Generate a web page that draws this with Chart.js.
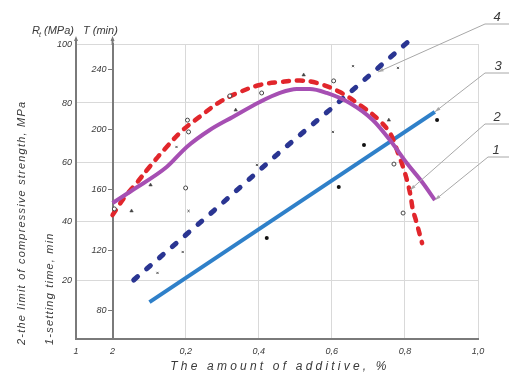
<!DOCTYPE html>
<html lang="en">
  <head>
    <meta charset="UTF-8" />
    <title>Setting time and strength vs additive</title>
    <style>
      body {
        margin: 0;
        background: white;
      }
      .wrap {
        position: relative;
        width: 509px;
        height: 374px;
      }
    </style>
  </head>
  <body>
    <div class="wrap"><canvas id="chart"></canvas></div>

    <script src="https://cdn.jsdelivr.net/npm/chart.js"></script>
    <script>
      // Axis ticks
      const xTicks = [-0.1, 0, 0.2, 0.4, 0.6, 0.8, 1.0];
      const xTickLabels = ["1", "2", "0,2", "0,4", "0,6", "0,8", "1,0"];
      const rTicks = [20, 40, 60, 80, 100];
      const tTicks = [80, 120, 160, 200, 240];

      // Curve 1 - setting time, min (T axis)
      const curve1X = [0, 0.055, 0.148, 0.203, 0.266, 0.329, 0.403, 0.458, 0.504, 0.54, 0.586, 0.649, 0.712, 0.759, 0.805, 0.849, 0.882];
      const curve1T = [151.3, 160.0, 175.3, 188.7, 200.0, 208.7, 218.7, 224.7, 227.3, 227.3, 224.7, 218.0, 206.7, 193.3, 178.0, 164.7, 153.3];

      // Curve 2 - limit of compressive strength, MPa
      const curve2X = [0, 0.033, 0.066, 0.101, 0.148, 0.192, 0.238, 0.293, 0.348, 0.403, 0.458, 0.512, 0.559, 0.622, 0.685, 0.723, 0.759, 0.781, 0.8, 0.814, 0.822, 0.83, 0.847];
      const curve2R = [42.0, 48.1, 52.9, 58.3, 65.1, 70.8, 75.3, 80.3, 83.7, 86.1, 87.1, 87.6, 86.8, 83.7, 78.6, 74.9, 69.8, 63.1, 56.3, 49.5, 43.7, 40.3, 32.5];

      // Curve 3 (solid blue)
      const curve3X = [0.101, 0.882];
      const curve3R = [12.5, 77.0];

      // Curve 4 (dashed dark blue)
      const curve4X = [0.058, 0.279, 0.458, 0.603, 0.827];
      const curve4R = [20.0, 43.7, 63.4, 78.6, 102.7];

      // Measured points
      const dotsX = [0.422, 0.619, 0.688, 0.888];
      const dotsR = [34.2, 51.5, 65.8, 74.2];
      const circlesX = [0.005, 0.2, 0.205, 0.208, 0.321, 0.408, 0.605, 0.77, 0.795];
      const circlesR = [44.1, 51.2, 74.2, 70.2, 82.4, 83.4, 87.5, 59.3, 42.7];
      const trianglesX = [0.052, 0.104, 0.337, 0.523, 0.756];
      const trianglesR = [43.4, 52.2, 77.6, 89.5, 74.2];
      const crossesX = [0.123, 0.192, 0.208, 0.175, 0.395, 0.603, 0.658, 0.781, 0.795];
      const crossesR = [22.4, 29.5, 43.4, 65.1, 59.0, 70.2, 92.5, 91.9, 104.4];

      const zip = (xs, ys) => xs.map((v, i) => ({ x: v, y: ys[i] }));

      const tickFont = { family: "Liberation Sans", size: 9, style: "italic" };
      const axisGray = "#7a7a7a";
      const gridGray = "#d9d9d9";
      const textGray = "#3a3a3a";

      // Labels 1..4 with leader lines to the curves
      const curveLabels = [
        { text: "4", tx: 497, ty: 17, x0: 485, y0: 24, at: [0.726, 90.5], axis: "y" },
        { text: "3", tx: 498, ty: 66, x0: 485, y0: 73, at: [0.882, 77.0], axis: "y" },
        { text: "2", tx: 497, ty: 117, x0: 485, y0: 124, at: [0.814, 50.5], axis: "y" },
        { text: "1", tx: 496, ty: 150, x0: 488, y0: 157, at: [0.882, 153.3], axis: "y2" },
      ];

      const decor = {
        id: "decor",
        afterDraw(chart) {
          const { ctx, scales } = chart;
          const x = scales.x;
          const y = scales.y;
          const y2 = scales.y2;
          ctx.save();

          // arrow tips on the two vertical axes
          ctx.strokeStyle = axisGray;
          ctx.fillStyle = axisGray;
          ctx.lineWidth = 2;
          [x.getPixelForValue(-0.1), x.getPixelForValue(0)].forEach((px) => {
            ctx.beginPath();
            ctx.moveTo(px, y.top + 1);
            ctx.lineTo(px, y.top - 5);
            ctx.stroke();
            ctx.beginPath();
            ctx.moveTo(px, y.top - 8);
            ctx.lineTo(px - 2, y.top - 3);
            ctx.lineTo(px + 2, y.top - 3);
            ctx.closePath();
            ctx.fill();
          });

          // T axis tick labels, left of the inner axis
          ctx.fillStyle = textGray;
          ctx.font = "italic 9px 'Liberation Sans'";
          ctx.textAlign = "right";
          ctx.textBaseline = "middle";
          const tx = x.getPixelForValue(0) - 6;
          tTicks.forEach((v) => ctx.fillText(String(v), tx, y2.getPixelForValue(v)));

          // axis names at the top
          ctx.textBaseline = "alphabetic";
          ctx.textAlign = "left";
          ctx.font = "italic 11px 'Liberation Sans'";
          ctx.fillText("R", 32, 34);
          ctx.font = "italic 7px 'Liberation Sans'";
          ctx.fillText("t", 39, 37);
          ctx.font = "italic 11px 'Liberation Sans'";
          ctx.fillText("(MPa)", 44, 34);
          ctx.fillText("T (min)", 83, 34);

          // rotated titles on the left
          ctx.font = "italic 11px 'Liberation Sans'";
          ctx.letterSpacing = "1.2px";
          ctx.textBaseline = "middle";
          [["2-the limit of compressive strength, MPa", 22], ["1-setting time, min", 50]].forEach(([t, cx]) => {
            ctx.save();
            ctx.translate(cx, 345);
            ctx.rotate(-Math.PI / 2);
            ctx.fillText(t, 0, 0);
            ctx.restore();
          });

          // x title
          ctx.font = "italic 12px 'Liberation Sans'";
          ctx.letterSpacing = "3.2px";
          ctx.textAlign = "center";
          ctx.fillText("The amount of additive, %", 280, 367);
          ctx.letterSpacing = "0px";

          // curve numbers and leader lines
          ctx.strokeStyle = "#a8a8a8";
          ctx.fillStyle = "#a8a8a8";
          ctx.lineWidth = 1;
          curveLabels.forEach((l) => {
            const px = x.getPixelForValue(l.at[0]);
            const py = scales[l.axis].getPixelForValue(l.at[1]);
            ctx.beginPath();
            ctx.moveTo(509, l.y0);
            ctx.lineTo(l.x0, l.y0);
            ctx.lineTo(px, py);
            ctx.stroke();
            const a = Math.atan2(py - l.y0, px - l.x0);
            ctx.beginPath();
            ctx.moveTo(px, py);
            ctx.lineTo(px - 6 * Math.cos(a - 0.3), py - 6 * Math.sin(a - 0.3));
            ctx.lineTo(px - 6 * Math.cos(a + 0.3), py - 6 * Math.sin(a + 0.3));
            ctx.closePath();
            ctx.fill();
          });
          ctx.fillStyle = textGray;
          ctx.font = "italic 13px 'Liberation Sans'";
          ctx.textAlign = "center";
          ctx.textBaseline = "middle";
          curveLabels.forEach((l) => ctx.fillText(l.text, l.tx, l.ty));
          ctx.restore();
        },
      };

      new Chart(document.getElementById("chart"), {
        type: "scatter",
        data: {
          datasets: [
            {
              label: "dots",
              data: zip(dotsX, dotsR),
              pointStyle: "circle",
              pointRadius: 2,
              backgroundColor: "#111",
              borderColor: "#111",
              borderWidth: 0,
            },
            {
              label: "circles",
              data: zip(circlesX, circlesR),
              pointStyle: "circle",
              pointRadius: 2,
              backgroundColor: "white",
              borderColor: "#444",
              borderWidth: 1,
            },
            {
              label: "triangles",
              data: zip(trianglesX, trianglesR),
              pointStyle: "triangle",
              pointRadius: 2,
              backgroundColor: "#444",
              borderColor: "#444",
              borderWidth: 0.5,
            },
            {
              label: "crosses",
              data: zip(crossesX, crossesR),
              pointStyle: "crossRot",
              pointRadius: 1.5,
              borderColor: "#555",
              borderWidth: 1,
              clip: false,
            },
            {
              label: "1",
              data: zip(curve1X, curve1T),
              yAxisID: "y2",
              showLine: true,
              pointRadius: 0,
              borderColor: "#a64fb3",
              borderWidth: 4,
              tension: 0.4,
              cubicInterpolationMode: "monotone",
            },
            {
              label: "2",
              data: zip(curve2X, curve2R),
              showLine: true,
              pointRadius: 0,
              borderColor: "#e1262c",
              borderWidth: 4.5,
              borderDash: [6, 8],
              borderCapStyle: "round",
              tension: 0.4,
            },
            {
              label: "3",
              data: zip(curve3X, curve3R),
              showLine: true,
              pointRadius: 0,
              borderColor: "#2f80c9",
              borderWidth: 4,
            },
            {
              label: "4",
              data: zip(curve4X, curve4R),
              showLine: true,
              pointRadius: 0,
              borderColor: "#2a3592",
              borderWidth: 5,
              borderDash: [5, 12],
              borderCapStyle: "round",
              clip: false,
            },
          ],
        },
        options: {
          responsive: true,
          maintainAspectRatio: false,
          animation: false,
          layout: { padding: { left: 36, top: 44, right: 31, bottom: 0 } },
          plugins: {
            legend: { display: false },
            tooltip: { enabled: false },
          },
          scales: {
            x: {
              type: "linear",
              min: -0.1,
              max: 1.0,
              afterBuildTicks: (s) => {
                s.ticks = xTicks.map((v) => ({ value: v }));
              },
              afterFit: (s) => {
                s.height = 35;
              },
              ticks: {
                font: tickFont,
                color: textGray,
                padding: 7,
                callback: (v) => xTickLabels[xTicks.indexOf(v)],
              },
              grid: {
                drawTicks: false,
                color: (c) => (c.tick && c.tick.value > 0 ? gridGray : "rgba(0,0,0,0)"),
              },
              border: { color: axisGray, width: 2 },
            },
            y: {
              position: "left",
              min: 0,
              max: 100,
              afterBuildTicks: (s) => {
                s.ticks = rTicks.map((v) => ({ value: v }));
              },
              afterFit: (s) => {
                s.width = 40;
              },
              ticks: { font: tickFont, color: textGray, padding: 4 },
              grid: { drawTicks: false, color: gridGray },
              border: { color: axisGray, width: 2 },
            },
            y2: {
              position: { x: 0 },
              min: 60.67,
              max: 257.33,
              afterBuildTicks: (s) => {
                s.ticks = tTicks.map((v) => ({ value: v }));
              },
              ticks: { display: false },
              grid: { drawOnChartArea: false, drawTicks: true, tickLength: 4, color: axisGray },
              border: { color: axisGray, width: 2 },
            },
          },
        },
        plugins: [decor],
      });
    </script>
  </body>
</html>
